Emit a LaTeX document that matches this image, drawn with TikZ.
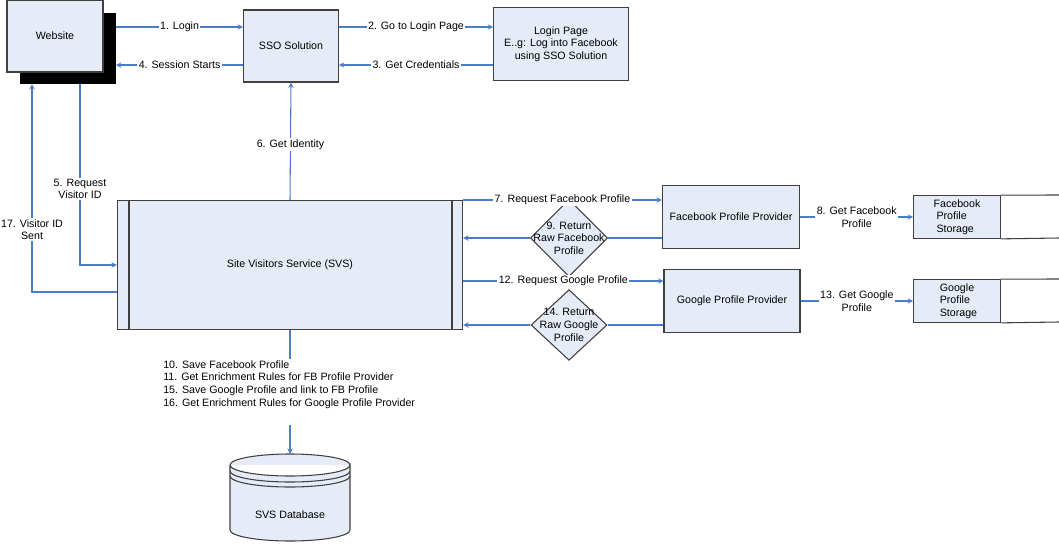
\documentclass[tikz,border=0pt]{standalone}
\usepackage{fontspec}
\setmainfont{Liberation Sans}
\usetikzlibrary{shapes, arrows}
\definecolor{boxfill}{HTML}{E6ECF7}
\definecolor{linkblue}{HTML}{4A7CC9}
\tikzstyle{block} = [rectangle, draw=black!75, fill=boxfill, thick, text centered, inner sep=0pt, font=\fontsize{8}{9.5}\selectfont]
\tikzstyle{decision} = [diamond, draw=black!75, fill=boxfill, thick, inner sep=-5pt, minimum width=57pt, minimum height=53pt, align=center, font=\fontsize{8}{9.5}\selectfont]
\tikzstyle{edge} = [thick, linkblue, ->, >=stealth]
\tikzstyle{lbl} = [fill=white, inner sep=1pt, text=black, align=center, font=\fontsize{8}{9.5}\selectfont]

\begin{document}
\begin{tikzpicture}[x=0.75pt, y=-0.75pt]
\useasboundingbox (0,0) rectangle (1059,546);

\fill[black] (20,13) rectangle (116,84);
\node (web) [block, minimum width=72pt, minimum height=54pt] at (55,36) {Website};
\node (sso) [block, minimum width=71pt, minimum height=54pt] at (291,46) {SSO Solution};
\node (login) [block, minimum width=101pt, minimum height=55pt, align=center] at (561,44) {Login Page\\E..g: Log into Facebook\\using SSO Solution};
\node (svs) [block, minimum width=259pt, minimum height=97pt] at (290,265) {Site Visitors Service (SVS)};
\draw[black!75, thick] (129,200) -- (129,329) (452,200) -- (452,329);
\node (fb) [block, minimum width=103pt, minimum height=47pt] at (731,217) {Facebook Profile Provider};
\node (gp) [block, minimum width=102pt, minimum height=47pt] at (732,301) {Google Profile Provider};
\node (fbs) [block, minimum width=65pt, minimum height=32pt, align=left] at (957,217) {Facebook\\ \ Profile\\ \ Storage};
\node (gps) [block, minimum width=65pt, minimum height=32pt, align=left] at (957,301) {\ Google\\ \ Profile\\ \ Storage};
\draw[black!75, thick] (fbs.north east) -- (1059,195) (fbs.south east) -- (1059,238);
\draw[black!75, thick] (gps.north east) -- (1059,279) (gps.south east) -- (1059,322);
\node (ret1) [decision] at (569,238) {9. Return\\Raw Facebook\\Profile};
\node (ret2) [decision] at (569,325) {14. Return\\Raw Google\\Profile};

% database
\begin{scope}[draw=black!75, thick]
\filldraw[fill=boxfill] (230,465) -- (230,530) arc[start angle=180, end angle=0, x radius=60, y radius=11] -- (350,465) arc[start angle=0, end angle=360, x radius=60, y radius=11];
\draw (230,471) arc[start angle=180, end angle=0, x radius=60, y radius=11];
\draw (230,476) arc[start angle=180, end angle=0, x radius=60, y radius=11];
\end{scope}
\node (db) [font=\fontsize{8}{9.5}\selectfont] at (290,515) {SVS Database};
\coordinate (dbtop) at (290,454);

\draw [edge] (116,27) -- node[lbl]{1. Login} (sso.west |- 0,27);
\draw [edge] (sso.west |- 0,65) -- node[lbl]{4. Session Starts} (116,65);
\draw [edge] (sso.east |- 0,27) -- node[lbl]{2. Go to Login Page} (login.west |- 0,27);
\draw [edge] (login.west |- 0,65) -- node[lbl]{3. Get Credentials} (sso.east |- 0,65);
\draw [edge] (svs.north) -- node[lbl, pos=0.47]{6. Get Identity} (sso.south);
\draw [edge] (80,84) -- node[lbl, pos=0.58]{5. Request\\Visitor ID} (80,265) -- (svs.west |- 0,265);
\draw [edge] (svs.west |- 0,292) -- (32,292) -- node[lbl, pos=0.3]{17. Visitor ID\\Sent} (32,84);
\draw [edge] (svs.east |- 0,200) -- node[lbl]{7. Request Facebook Profile} (fb.west |- 0,200);
\draw [edge] (fb.west |- 0,238) -- (ret1.east) (ret1.west) -- (svs.east |- 0,238);
\draw [edge] (svs.east |- 0,281) -- node[lbl]{12. Request Google Profile} (gp.west |- 0,281);
\draw [edge] (gp.west |- 0,325) -- (ret2.east) (ret2.west) -- (svs.east |- 0,325);
\draw [edge] (fb.east) -- node[lbl]{8. Get Facebook\\Profile} (fbs.west);
\draw [edge] (gp.east) -- node[lbl]{13. Get Google\\Profile} (gps.west);
\draw [thick, linkblue] (svs.south) -- (290,359);
\node (notes) [lbl, anchor=north west, align=left, inner sep=0pt] at (163,360) {10. Save Facebook Profile\\11. Get Enrichment Rules for FB Profile Provider\\15. Save Google Profile and link to FB Profile\\16. Get Enrichment Rules for Google Profile Provider};
\draw [edge] (290,425) -- (dbtop);

\end{tikzpicture}
\end{document}
